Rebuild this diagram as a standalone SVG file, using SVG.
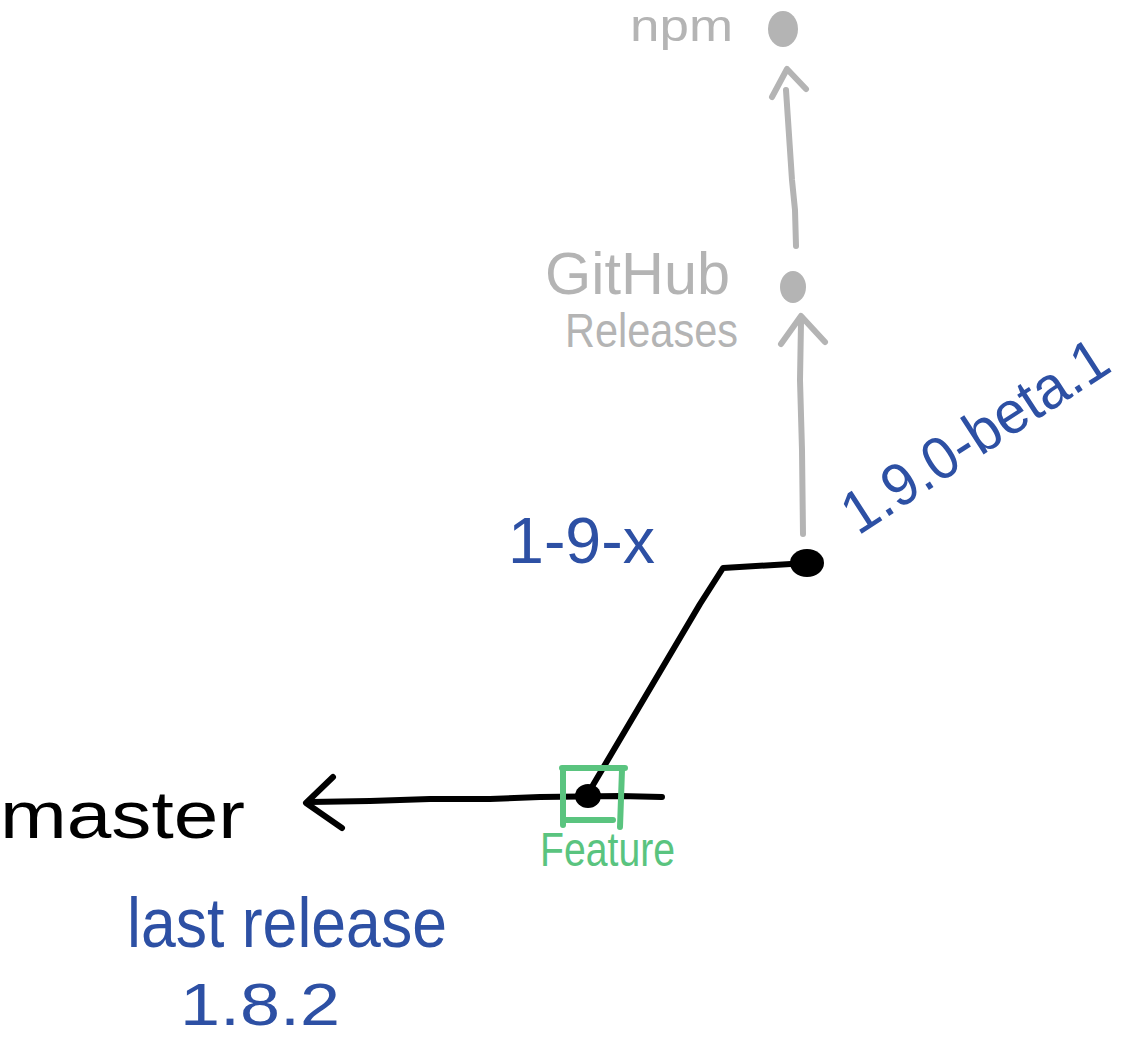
<svg xmlns="http://www.w3.org/2000/svg" width="1132" height="1039" viewBox="0 0 1132 1039">
<style>
.t{font-family:"Liberation Sans","DejaVu Sans",sans-serif;}
.blue{fill:#2d50a4;}
.gray{fill:#b4b4b4;}
.green{fill:#5ac47f;}
.black{fill:#000;}
.ln{fill:none;stroke-width:6;stroke-linecap:round;stroke-linejoin:round;}
.lk{stroke:#000;}
.lg{stroke:#b4b4b4;}
.lgr{stroke:#5ac47f;}
</style>
<rect width="1132" height="1039" fill="#fff"/>
<g id="connectors">
<path class="ln lg" d="M796 246 L795 210 L792 180 L788 120 L786 90"/>
<path class="ln lg" d="M772 97 L787 69 L806 89"/>
<path class="ln lg" d="M803 534 L802 450 L800 380 L801 322"/>
<path class="ln lg" d="M781 344 L801 316 L825 342"/>
<path class="ln lk" d="M807 563 L723 568 L700 604 L593 785 L588 796"/>
<path class="ln lk" d="M662 797 L620 796 L540 797 L490 799 L430 799 L370 801 L310 802"/>
<path class="ln lk" d="M333 777 L306 803 L342 828"/>
</g>
<g id="npm">
<ellipse cx="783" cy="29" rx="15" ry="18" class="gray"/>
<text class="t gray" x="630" y="41" font-size="44" textLength="103" lengthAdjust="spacingAndGlyphs">npm</text>
</g>
<g id="github-releases">
<ellipse cx="793" cy="287" rx="13" ry="16" class="gray"/>
<text class="t gray" x="545" y="294" font-size="60" textLength="185" lengthAdjust="spacingAndGlyphs">GitHub</text>
<text class="t gray" x="565" y="347" font-size="48" textLength="173" lengthAdjust="spacingAndGlyphs">Releases</text>
</g>
<g id="beta">
<ellipse cx="807" cy="563" rx="17" ry="14" class="black"/>
<text class="t blue" font-size="60" textLength="305" lengthAdjust="spacingAndGlyphs" transform="translate(858 536) rotate(-33)">1.9.0-beta.1</text>
</g>
<g id="branch-label">
<text class="t blue" x="508" y="563" font-size="64" textLength="147" lengthAdjust="spacingAndGlyphs">1-9-x</text>
</g>
<g id="feature">
<ellipse cx="588" cy="796" rx="13" ry="12" class="black"/>
<path class="ln lgr" d="M562 768 L625 768 M622 770 L620 827 M563 770 L563 825 M563 820 L613 820"/>
<text class="t green" x="540" y="866" font-size="48" textLength="135" lengthAdjust="spacingAndGlyphs">Feature</text>
</g>
<g id="master">
<text class="t black" x="0" y="838" font-size="66" textLength="245" lengthAdjust="spacingAndGlyphs">master</text>
</g>
<g id="last-release">
<text class="t blue" x="127" y="947" font-size="70" textLength="320" lengthAdjust="spacingAndGlyphs">last release</text>
<text class="t blue" x="180" y="1025" font-size="60" textLength="160" lengthAdjust="spacingAndGlyphs">1.8.2</text>
</g>
</svg>
